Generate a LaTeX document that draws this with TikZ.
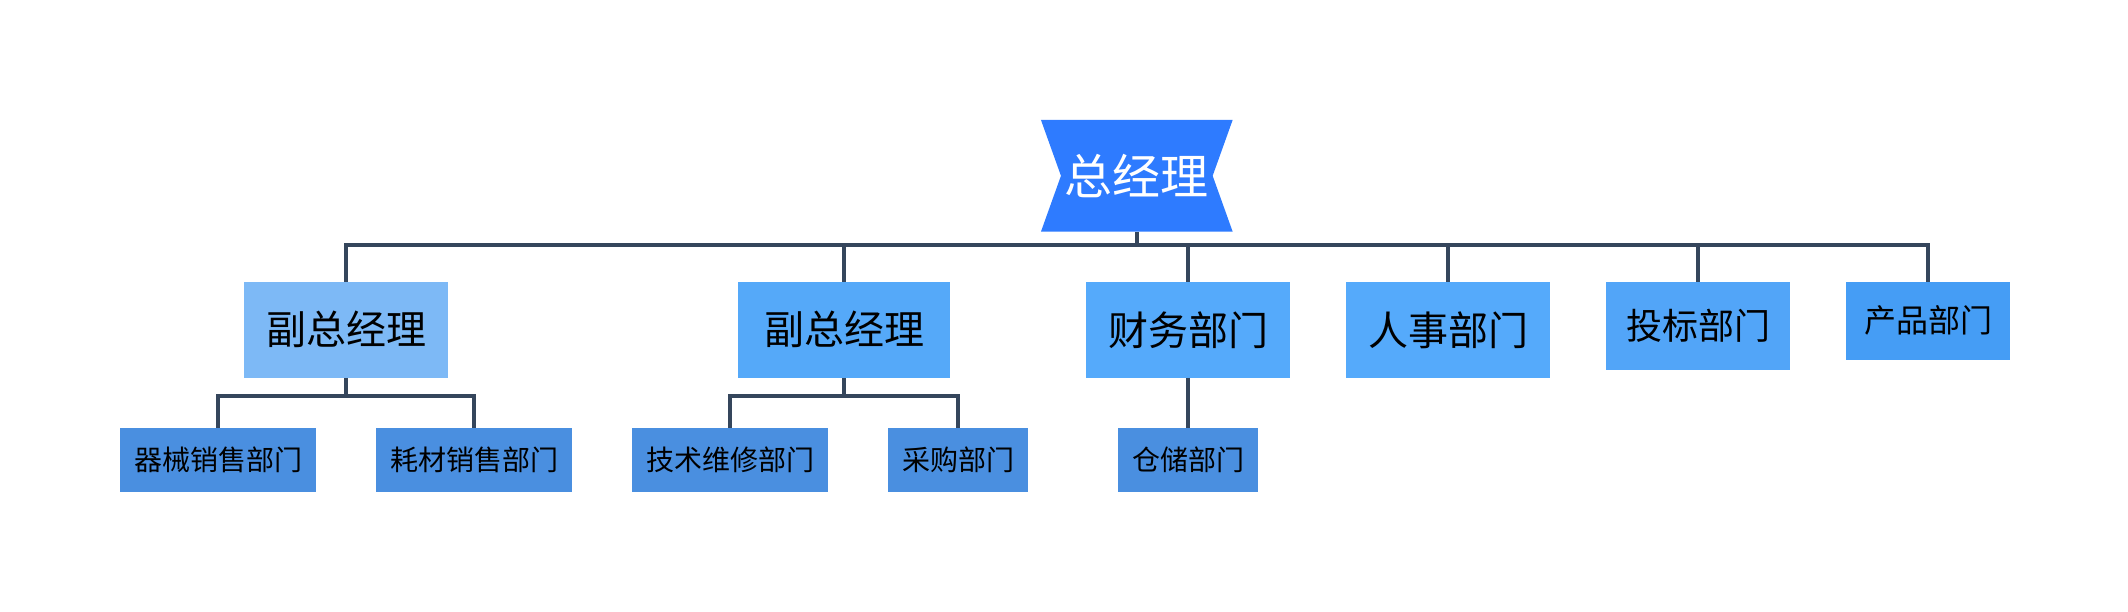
\documentclass[tikz,border=0pt]{standalone}
\usepackage{fontspec}
\setmainfont{Noto Sans CJK SC}
\usepackage{tikz}
\definecolor{mtop}{HTML}{2E7BFF}
\definecolor{mvpa}{HTML}{7DB9F6}
\definecolor{mvpb}{HTML}{55A9F9}
\definecolor{mdept}{HTML}{55AAFB}
\definecolor{mbid}{HTML}{52A5F8}
\definecolor{mprod}{HTML}{459DF5}
\definecolor{msub}{HTML}{4A8FE0}
\definecolor{mline}{HTML}{35465C}
\tikzset{box/.style = {rectangle, inner sep=0pt, text=black}}
\tikzset{subbox/.style = {box, fill=msub, minimum width=196pt, minimum height=63.7pt,
                          font=\fontsize{28}{30}\selectfont}}
\tikzset{orgline/.style = {mline, line width=4pt}}

\begin{document}
\begin{tikzpicture}[x=1pt, y=-1pt]
      \useasboundingbox (0, 0) rectangle (2128, 612);

      \node [box, minimum width=191.7pt, minimum height=111.7pt, text=white,
             font=\fontsize{48}{50}\selectfont,
             path picture={\fill [mtop] (path picture bounding box.north west)
                  -- (path picture bounding box.north east)
                  -- ([xshift=-20pt]path picture bounding box.east)
                  -- (path picture bounding box.south east)
                  -- (path picture bounding box.south west)
                  -- ([xshift=20pt]path picture bounding box.west) -- cycle;}]
            (gm) at (1136.8, 175.8) {总经理};

      \node [box, fill=mvpa, minimum width=204pt, minimum height=95.7pt,
             font=\fontsize{40}{42}\selectfont] (vpa) at (346, 329.8) {副总经理};
      \node [box, fill=mvpb, minimum width=212pt, minimum height=95.7pt,
             font=\fontsize{40}{42}\selectfont] (vpb) at (844, 329.8) {副总经理};
      \node [box, fill=mdept, minimum width=204pt, minimum height=95.7pt,
             font=\fontsize{40}{42}\selectfont] (fin) at (1188, 329.8) {财务部门};
      \node [box, fill=mdept, minimum width=204pt, minimum height=95.7pt,
             font=\fontsize{40}{42}\selectfont] (hr) at (1448, 329.8) {人事部门};
      \node [box, fill=mbid, minimum width=184pt, minimum height=87.7pt,
             font=\fontsize{36}{38}\selectfont] (bid) at (1698, 325.8) {投标部门};
      \node [box, fill=mprod, minimum width=164pt, minimum height=77.7pt,
             font=\fontsize{32}{34}\selectfont] (prod) at (1928, 320.8) {产品部门};

      \node [subbox] (sales) at (218, 459.8) {器械销售部门};
      \node [subbox] (supply) at (474, 459.8) {耗材销售部门};
      \node [subbox] (repair) at (730, 459.8) {技术维修部门};
      \node [subbox, minimum width=140pt] (buy) at (958, 459.8) {采购部门};
      \node [subbox, minimum width=140pt] (store) at (1188, 459.8) {仓储部门};

      \coordinate (bar) at (1136.8, 244.7);
      \coordinate (vpabar) at (346, 395.7);
      \coordinate (vpbbar) at (844, 395.7);

      \draw [orgline] (gm.south) -- (bar);
      \draw [orgline] (bar) -| (vpa.north);
      \draw [orgline] (bar) -| (vpb.north);
      \draw [orgline] (bar) -| (fin.north);
      \draw [orgline] (bar) -| (hr.north);
      \draw [orgline] (bar) -| (bid.north);
      \draw [orgline] (bar) -| (prod.north);

      \draw [orgline] (vpa.south) -- (vpabar);
      \draw [orgline] (vpabar) -| (sales.north);
      \draw [orgline] (vpabar) -| (supply.north);
      \draw [orgline] (vpb.south) -- (vpbbar);
      \draw [orgline] (vpbbar) -| (repair.north);
      \draw [orgline] (vpbbar) -| (buy.north);
      \draw [orgline] (fin.south) -- (store.north);
    \end{tikzpicture}
\end{document}
